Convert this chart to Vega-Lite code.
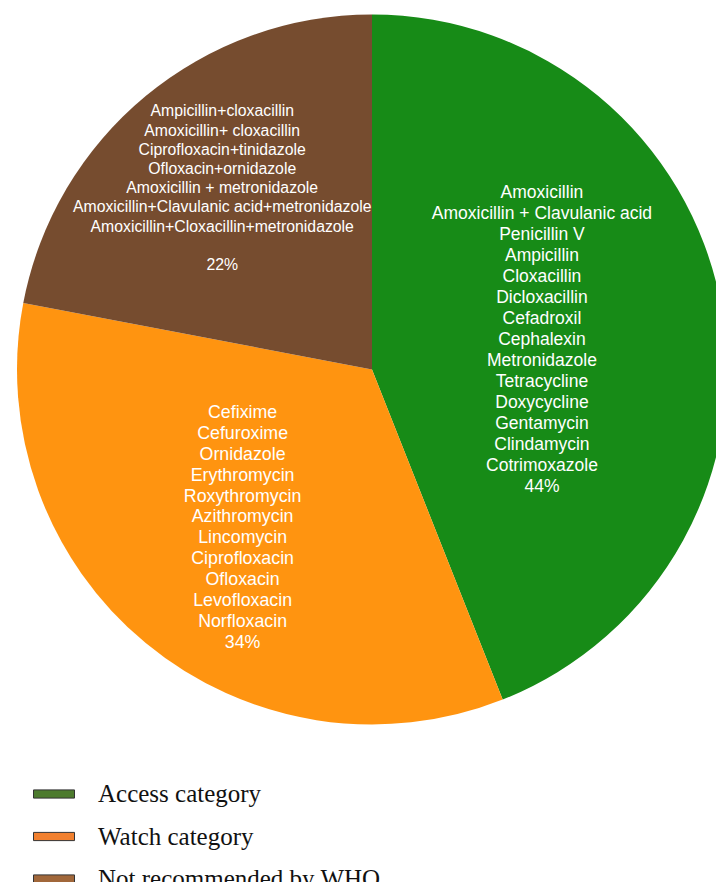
{
  "$schema": "https://vega.github.io/schema/vega-lite/v6.json",
  "autosize": {"type": "none"},
  "width": 688,
  "height": 739,
  "padding": {"left": 28, "right": 0, "top": 0, "bottom": 143},
  "background": "white",
  "view": {"stroke": null},
  "data": {
    "values": [
      {"category": "Access category", "value": 44, "pct": "44%", "drugs": "Amoxicillin\nAmoxicillin + Clavulanic acid\nPenicillin V\nAmpicillin\nCloxacillin\nDicloxacillin\nCefadroxil\nCephalexin\nMetronidazole\nTetracycline\nDoxycycline\nGentamycin\nClindamycin\nCotrimoxazole"},
      {"category": "Watch category", "value": 34, "pct": "34%", "drugs": "Cefixime\nCefuroxime\nOrnidazole\nErythromycin\nRoxythromycin\nAzithromycin\nLincomycin\nCiprofloxacin\nOfloxacin\nLevofloxacin\nNorfloxacin"},
      {"category": "Not recommended by WHO", "value": 22, "pct": "22%", "drugs": "Ampicillin+cloxacillin\nAmoxicillin+ cloxacillin\nCiprofloxacin+tinidazole\nOfloxacin+ornidazole\nAmoxicillin + metronidazole\nAmoxicillin+Clavulanic acid+metronidazole\nAmoxicillin+Cloxacillin+metronidazole"}
    ]
  },
  "encoding": {
    "theta": {"field": "value", "type": "quantitative", "stack": true},
    "order": {"field": "value", "type": "quantitative", "sort": "descending"}
  },
  "layer": [
    {
      "mark": {"type": "arc", "radius": 355, "stroke": null},
      "encoding": {
        "fill": {
          "field": "category",
          "type": "nominal",
          "scale": {"range": ["#178b17", "#764c2f", "#ff9410"]},
          "legend": null
        }
      }
    },
    {
      "mark": {"type": "arc", "radius": 0, "opacity": 1, "stroke": null},
      "encoding": {
        "color": {
          "field": "category",
          "type": "nominal",
          "sort": ["Access category", "Watch category", "Not recommended by WHO"],
          "scale": {
            "domain": ["Access category", "Watch category", "Not recommended by WHO"],
            "range": ["#4d7b2e", "#f1802f", "#a1673a"]
          },
          "legend": {
            "title": null,
            "orient": "none",
            "legendX": 5,
            "legendY": 773,
            "padding": 0,
            "symbolType": "M-1,-0.2H1V0.2H-1Z",
            "symbolSize": 1681,
            "symbolStrokeWidth": 1,
            "symbolStrokeColor": "#333333",
            "symbolOpacity": 1,
            "labelFont": "Liberation Serif",
            "labelFontSize": 25,
            "labelColor": "#111111",
            "labelOffset": 23,
            "labelLimit": 400,
            "rowPadding": 8.5
          }
        }
      }
    },
    {
      "mark": {"type": "text", "radius": 173, "dy": -144, "font": "Liberation Sans", "fontSize": 17.5, "lineHeight": 21, "lineBreak": "\n", "color": "white", "align": "center", "baseline": "middle"},
      "encoding": {
        "text": {"condition": {"test": "datum.category === 'Access category'", "field": "drugs"}, "value": ""}
      }
    },
    {
      "mark": {"type": "text", "radius": 173, "dy": 150, "font": "Liberation Sans", "fontSize": 17.5, "color": "white", "align": "center", "baseline": "middle"},
      "encoding": {
        "text": {"condition": {"test": "datum.category === 'Access category'", "field": "pct"}, "value": ""}
      }
    },
    {
      "mark": {"type": "text", "radius": 203, "dy": -113, "font": "Liberation Sans", "fontSize": 17.8, "lineHeight": 20.9, "lineBreak": "\n", "color": "white", "align": "center", "baseline": "middle"},
      "encoding": {
        "text": {"condition": {"test": "datum.category === 'Watch category'", "field": "drugs"}, "value": ""}
      }
    },
    {
      "mark": {"type": "text", "radius": 203, "dy": 117, "font": "Liberation Sans", "fontSize": 17.8, "color": "white", "align": "center", "baseline": "middle"},
      "encoding": {
        "text": {"condition": {"test": "datum.category === 'Watch category'", "field": "pct"}, "value": ""}
      }
    },
    {
      "mark": {"type": "text", "radius": 235, "dy": -77, "font": "Liberation Sans", "fontSize": 15.8, "lineHeight": 19.2, "lineBreak": "\n", "color": "white", "align": "center", "baseline": "middle"},
      "encoding": {
        "text": {"condition": {"test": "datum.category === 'Not recommended by WHO'", "field": "drugs"}, "value": ""}
      }
    },
    {
      "mark": {"type": "text", "radius": 235, "dy": 77, "font": "Liberation Sans", "fontSize": 15.8, "color": "white", "align": "center", "baseline": "middle"},
      "encoding": {
        "text": {"condition": {"test": "datum.category === 'Not recommended by WHO'", "field": "pct"}, "value": ""}
      }
    }
  ]
}
